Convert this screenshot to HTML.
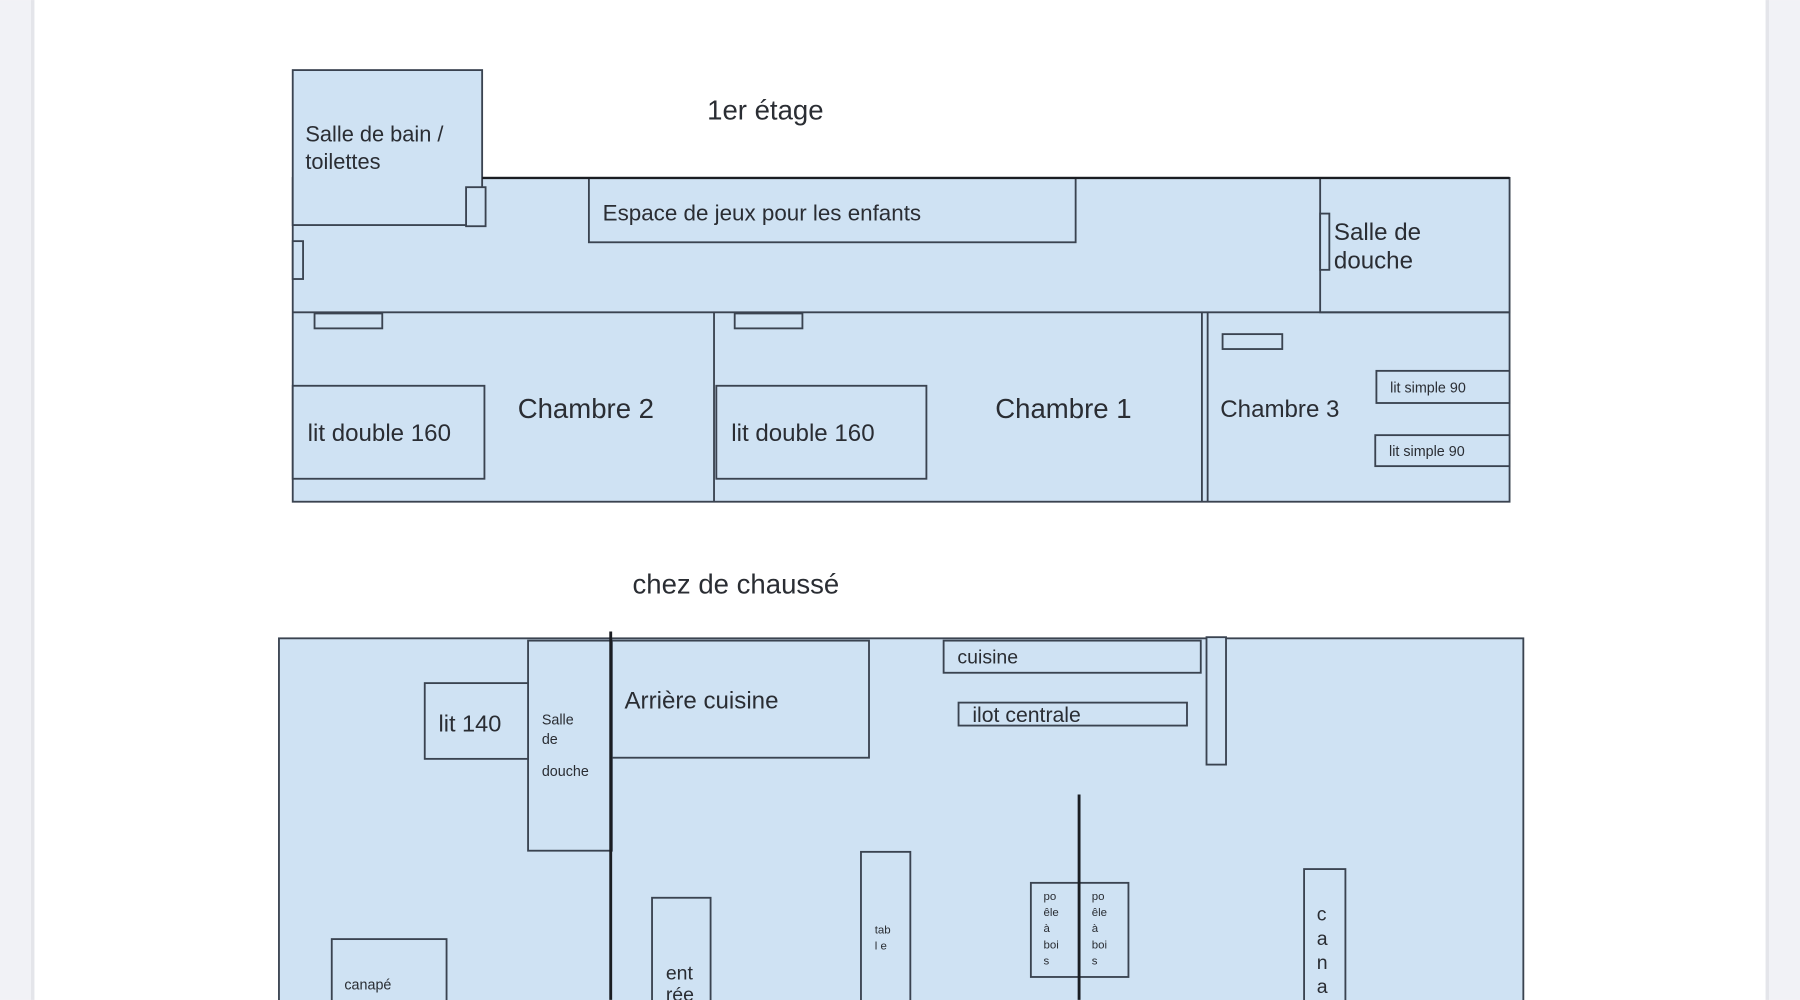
<!DOCTYPE html>
<html><head><meta charset="utf-8"><style>
html,body{margin:0;padding:0;background:#fff;}
svg{display:block}
text{font-family:"Liberation Sans",sans-serif;fill:#2a2d33}
</style></head><body>
<svg width="1800" height="1000" viewBox="0 0 1568 871" xmlns="http://www.w3.org/2000/svg">
<rect x="0" y="0" width="1568" height="871" fill="#fff"/>
<rect x="0" y="0" width="27" height="871" fill="#f1f2f6"/>
<rect x="27" y="0" width="3" height="871" fill="#e4e5ea"/>
<rect x="1540" y="0" width="28" height="871" fill="#f1f2f6"/>
<rect x="1538" y="0" width="3" height="871" fill="#e4e5ea"/>
<line x1="420" y1="155" x2="1315" y2="155" stroke="#1a1d22" stroke-width="2"/>
<g fill="#cfe2f3" stroke="#3a4350" stroke-width="1.6">
<!-- upper floor -->
<rect x="255" y="155" width="1060" height="282"/>
<rect x="255" y="61" width="165" height="135"/>
<rect x="406" y="163" width="17" height="34"/>
<rect x="255" y="210" width="9" height="33"/>
<rect x="513" y="155" width="424" height="56"/>
<rect x="1150" y="155" width="165" height="117"/>
<rect x="1150" y="186" width="8" height="49"/>
<line x1="255" y1="272" x2="1315" y2="272"/>
<line x1="622" y1="272" x2="622" y2="437"/>
<line x1="1047" y1="272" x2="1047" y2="437"/>
<line x1="1052" y1="272" x2="1052" y2="437"/>
<rect x="274" y="273" width="59" height="13"/>
<rect x="640" y="273" width="59" height="13"/>
<rect x="1065" y="291" width="52" height="13"/>
<rect x="255" y="336" width="167" height="81"/>
<rect x="624" y="336" width="183" height="81"/>
<rect x="1199" y="323" width="116" height="28"/>
<rect x="1198" y="379" width="117" height="27"/>
<!-- ground floor -->
<rect x="243" y="556" width="1084" height="330"/>
<rect x="460" y="558" width="73" height="183"/>
<rect x="370" y="595" width="90" height="66"/>
<rect x="533" y="558" width="224" height="102"/>
<rect x="822" y="558" width="224" height="28"/>
<rect x="835" y="612" width="199" height="20"/>
<rect x="1051" y="555" width="17" height="111"/>
<rect x="898" y="769" width="85" height="82"/>
<rect x="750" y="742" width="43" height="140"/>
<rect x="568" y="782" width="51" height="100"/>
<rect x="289" y="818" width="100" height="60"/>
<rect x="1136" y="757" width="36" height="120"/>
</g>
<line x1="532" y1="550" x2="532" y2="871" stroke="#1a1d22" stroke-width="2.5"/>
<line x1="940" y1="692" x2="940" y2="871" stroke="#1a1d22" stroke-width="2.5"/>
<line x1="420" y1="155" x2="1315" y2="155" stroke="#1a1d22" stroke-width="2"/>

<text x="616" y="104" font-size="24">1er étage</text>
<text x="266" y="123" font-size="19">Salle de bain /</text>
<text x="266" y="147" font-size="19">toilettes</text>
<text x="525" y="192" font-size="19.5">Espace de jeux pour les enfants</text>
<text x="1162" y="209" font-size="21">Salle de</text>
<text x="1162" y="234" font-size="21">douche</text>
<text x="451" y="364" font-size="24">Chambre 2</text>
<text x="867" y="364" font-size="24">Chambre 1</text>
<text x="1063" y="363" font-size="21">Chambre 3</text>
<text x="268" y="384" font-size="21">lit double 160</text>
<text x="637" y="384" font-size="21">lit double 160</text>
<text x="1211" y="342" font-size="12.5">lit simple 90</text>
<text x="1210" y="397" font-size="12.5">lit simple 90</text>

<text x="551" y="517" font-size="24">chez de chaussé</text>
<text x="472" y="631" font-size="12.5">Salle</text>
<text x="472" y="648" font-size="12.5">de</text>
<text x="472" y="676" font-size="12.5">douche</text>
<text x="382" y="637" font-size="20.5">lit 140</text>
<text x="544" y="617" font-size="21">Arrière cuisine</text>
<text x="834" y="578" font-size="17">cuisine</text>
<text x="847" y="629" font-size="18.5">ilot centrale</text>
<text x="762" y="813" font-size="10">tab</text>
<text x="762" y="827" font-size="10">l e</text>
<g font-size="10">
<text x="909" y="784">po</text><text x="909" y="798">êle</text><text x="909" y="812">à</text><text x="909" y="826">boi</text><text x="909" y="840">s</text>
<text x="951" y="784">po</text><text x="951" y="798">êle</text><text x="951" y="812">à</text><text x="951" y="826">boi</text><text x="951" y="840">s</text>
</g>
<text x="580" y="853" font-size="17">ent</text>
<text x="580" y="872" font-size="17">rée</text>
<text x="300" y="862" font-size="12.5">canapé</text>
<g font-size="17">
<text x="1147" y="802">c</text><text x="1147" y="823">a</text><text x="1147" y="844">n</text><text x="1147" y="865">a</text>
</g>
</svg>
</body></html>
